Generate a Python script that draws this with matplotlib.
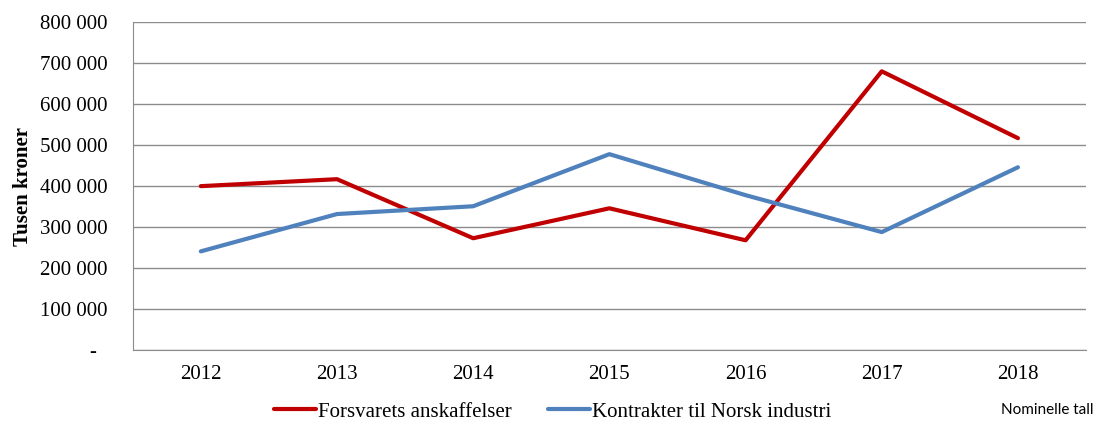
import numpy as np
import matplotlib.pyplot as plt
from matplotlib.ticker import FuncFormatter

years = ["2012", "2013", "2014", "2015", "2016", "2017", "2018"]
forsvaret = [400000, 417000, 273000, 346000, 268000, 680000, 517000]
norsk_industri = [241000, 332000, 351000, 478000, 378000, 288000, 446000]

plt.rcParams['font.family'] = ['Liberation Serif', 'DejaVu Serif']

fig = plt.figure(figsize=(10.97, 4.25), dpi=100)
ax = fig.add_axes([0.121, 0.176, 0.869, 0.772])

x = np.arange(len(years))
ax.plot(x, forsvaret, color="#c00000", lw=3, label="Forsvarets anskaffelser", solid_capstyle="round")
ax.plot(x, norsk_industri, color="#4f81bd", lw=3, label="Kontrakter til Norsk industri", solid_capstyle="round")

ax.set_xlim(-0.5, len(years) - 0.5)
ax.set_ylim(0, 800000)
ax.set_yticks(np.arange(0, 800001, 100000))
ax.yaxis.set_major_formatter(FuncFormatter(
    lambda v, p: "-  " if v == 0 else f"{int(v):,}".replace(",", " ")))
ax.set_xticks(x)
ax.set_xticklabels(years)
ax.tick_params(axis="both", length=0, labelsize=15, colors="#000000")
ax.tick_params(axis="y", pad=18)
ax.tick_params(axis="x", pad=11)

ax.grid(axis="y", color="#8c8c8c", lw=1)
ax.set_axisbelow(True)
for s in ["top", "right"]:
    ax.spines[s].set_visible(False)
for s in ["left", "bottom"]:
    ax.spines[s].set_color("#8c8c8c")

ax.set_ylabel("Tusen kroner", fontsize=15, fontweight="bold", labelpad=5)

fig.legend(loc="center", bbox_to_anchor=(0.504, 0.031), ncol=2, frameon=False,
           fontsize=15, handlelength=2.0, columnspacing=1.75, handletextpad=0.1)

fig.text(0.997, 0.035, "Nominelle tall", fontsize=11, family="Lato", ha="right", va="center")

fig.savefig("out.png", dpi=100)
